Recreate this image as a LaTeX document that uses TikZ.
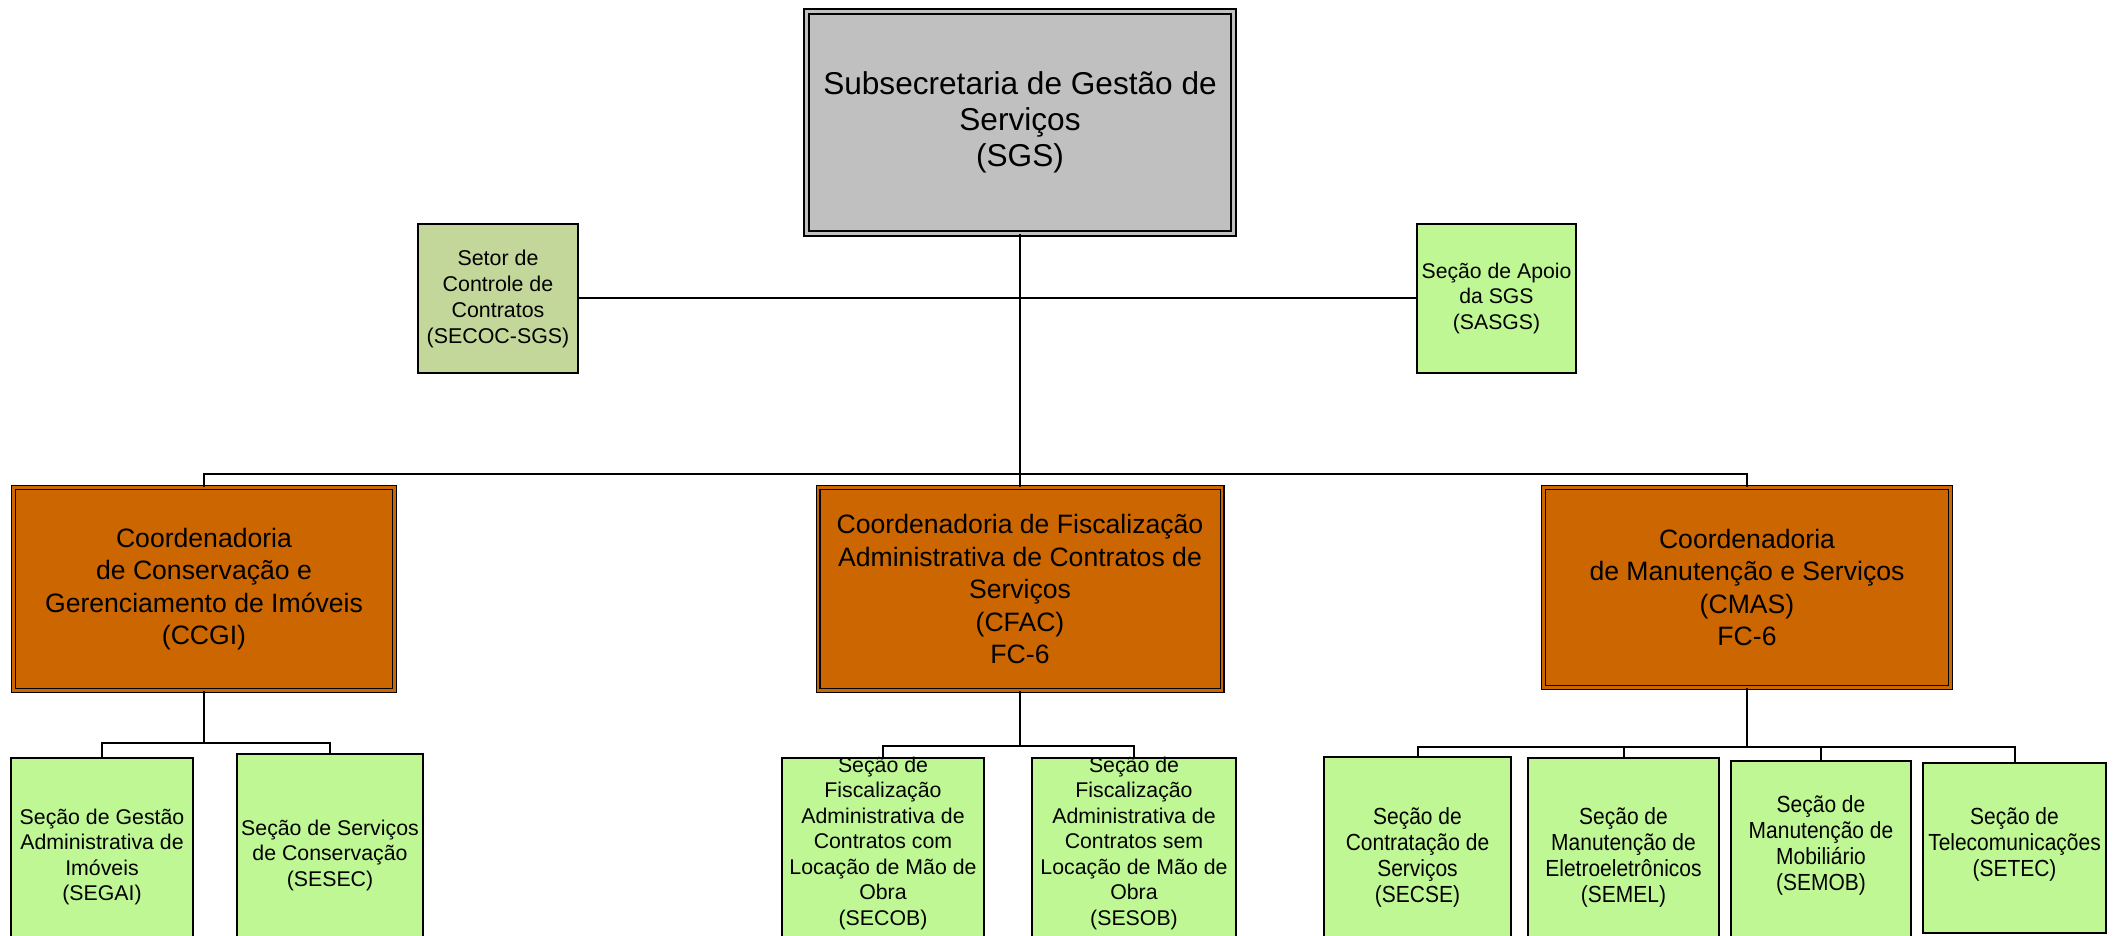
\documentclass[tikz,border=0pt]{standalone}
\usepackage{fontspec}
\setmainfont{Liberation Sans}
\newfontfamily\condfont[FakeStretch=0.9]{Liberation Sans}
\definecolor{sgsgray}{HTML}{C0C0C0}
\definecolor{oliveg}{HTML}{C4D79B}
\definecolor{lightg}{HTML}{BEF794}
\definecolor{coordor}{HTML}{CC6600}
\tikzset{
  line/.style={draw=black, line width=1pt},
  topbox/.style={draw=black, fill=sgsgray, line width=0.8pt, double=sgsgray, double distance=1.8pt, inner sep=0pt, align=center, font={\fontsize{15.8pt}{18pt}\selectfont}},
  coordbox/.style={draw=black, fill=coordor, line width=0.6pt, double=coordor, double distance=1.3pt, inner sep=0pt, align=center, font={\fontsize{13.3pt}{16.25pt}\selectfont}},
  sidebox/.style={draw=black, line width=1pt, inner sep=0pt, align=center},
  secbox/.style={draw=black, fill=lightg, line width=1pt, inner sep=0pt},
  sectxt/.style={align=center, inner sep=0pt, font={\fontsize{10.65pt}{12.75pt}\selectfont}},
  condtxt/.style={align=center, inner sep=0pt, font={\condfont\fontsize{11.65pt}{13pt}\selectfont}}
}
\begin{document}
\begin{tikzpicture}[x=0.5pt, y=-0.5pt]
\useasboundingbox (0,0) rectangle (2116,936);
\clip (0,0) rectangle (2116,936);
\fill[white] (0,0) rectangle (2116,936);

% top
\node[topbox, minimum width=213.5pt, minimum height=111pt] (sgs) at (1020,122.5)
  {Subsecretaria de Gestão de\\Serviços\\(SGS)};
\node[sidebox, fill=oliveg, minimum width=80pt, minimum height=74.5pt, font={\fontsize{10.7pt}{13pt}\selectfont}] (secoc) at (498,298.5)
  {Setor de\\Controle de\\Contratos\\(SECOC-SGS)};
\node[sidebox, fill=lightg, minimum width=79.5pt, minimum height=74.5pt, font={\fontsize{10.6pt}{12.7pt}\selectfont}] (sasgs) at (1496.5,298.5)
  {Seção de Apoio\\da SGS\\(SASGS)};

% coordinators
\node[coordbox, minimum width=190.5pt, minimum height=101.5pt] (ccgi) at (204,589)
  {Coordenadoria\\de Conservação e\\Gerenciamento de Imóveis\\(CCGI)};
\node[coordbox, minimum width=202pt, minimum height=101.5pt] (cfac) at (1020,589)
  {Coordenadoria de Fiscalização\\Administrativa de Contratos de\\Serviços\\(CFAC)\\FC-6};
\node[coordbox, minimum width=203.5pt, minimum height=100pt] (cmas) at (1747,587.5)
  {Coordenadoria\\de Manutenção e Serviços\\(CMAS)\\FC-6};

% sections
\node[secbox, minimum width=91pt, minimum height=101pt] (segai) at (102,859) {};
\node[secbox, minimum width=93pt, minimum height=103pt] (sesec) at (330,857) {};
\node[secbox, minimum width=101pt, minimum height=101pt] (secob) at (883,859) {};
\node[secbox, minimum width=102pt, minimum height=101pt] (sesob) at (1134,859) {};
\node[secbox, minimum width=93.5pt, minimum height=101.5pt] (secse) at (1417.5,858.5) {};
\node[secbox, minimum width=95.5pt, minimum height=101pt] (semel) at (1623.5,859) {};
\node[secbox, minimum width=90pt, minimum height=99.5pt] (semob) at (1821,860.5) {};
\node[secbox, minimum width=91.5pt, minimum height=85pt] (setec) at (2014.5,848) {};

\node[sectxt] (segaiT) at (102,857) {Seção de Gestão\\Administrativa de\\Imóveis\\(SEGAI)};
\node[sectxt] (sesecT) at (330,855) {Seção de Serviços\\de Conservação\\(SESEC)};
\node[sectxt] (secobT) at (883,843) {Seção de\\Fiscalização\\Administrativa de\\Contratos com\\Locação de Mão de\\Obra\\(SECOB)};
\node[sectxt] (sesobT) at (1134,843) {Seção de\\Fiscalização\\Administrativa de\\Contratos sem\\Locação de Mão de\\Obra\\(SESOB)};
\node[condtxt] (secseT) at (1417.5,857) {Seção de\\Contratação de\\Serviços\\(SECSE)};
\node[condtxt] (semelT) at (1623.5,857.5) {Seção de\\Manutenção de\\Eletroeletrônicos\\(SEMEL)};
\node[condtxt] (semobT) at (1821,845) {Seção de\\Manutenção de\\Mobiliário\\(SEMOB)};
\node[condtxt] (setecT) at (2014.5,844.5) {Seção de\\Telecomunicações\\(SETEC)};

% connectors
\coordinate (bus) at (1020,474);
\coordinate (b1) at (204,743);
\coordinate (b2) at (1020,746);
\coordinate (b3) at (1747,747);

\draw[line] (sgs.south) -- (cfac.north);
\draw[line] (secoc.east) -- (sasgs.west);
\draw[line] (ccgi.north) |- (bus) -| (cmas.north);

\draw[line] (ccgi.south) -- (b1);
\draw[line] (segai.north) |- (b1) -| (sesec.north);

\draw[line] (cfac.south) -- (b2);
\draw[line] (secob.north) |- (b2) -| (sesob.north);

\draw[line] (cmas.south) -- (b3);
\draw[line] (secse.north) |- (b3) -| (setec.north);
\draw[line] (semel.north) -- (semel.north |- b3);
\draw[line] (semob.north) -- (semob.north |- b3);
\end{tikzpicture}
\end{document}
